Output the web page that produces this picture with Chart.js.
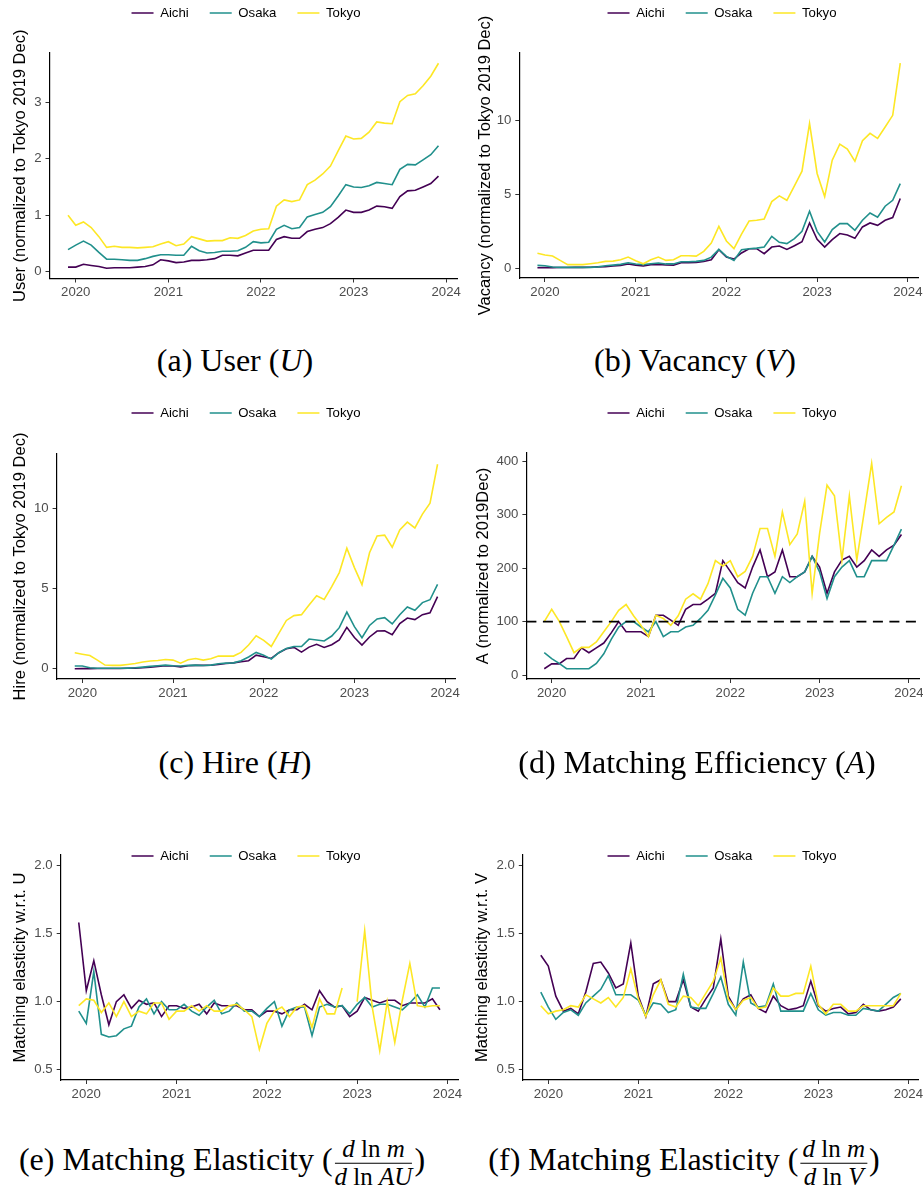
<!DOCTYPE html>
<html>
<head>
<meta charset="utf-8">
<title>Matching function panels</title>
<script src="https://cdn.jsdelivr.net/npm/chart.js@4.4.1/dist/chart.umd.min.js"></script>
<style>
  html, body { margin: 0; padding: 0; background: #fff; }
  #page { position: relative; width: 923px; height: 1185px; overflow: hidden; }
  #page canvas { position: absolute; }
  .cap { position: absolute; transform: translate(-50%, -50%); white-space: nowrap;
         font-family: "Liberation Serif", "DejaVu Serif", serif; font-size: 32px; color: #000; }
  .frac { display: inline-block; vertical-align: middle; text-align: center; font-size: 25px; line-height: 1.05; margin: 0 2px; }
  .frac span { display: block; }
  .frac .num { border-bottom: 1px solid #000; padding: 0 2px 1px; }
</style>
</head>
<body>
<div id="page">
  <canvas id="chartUser"></canvas>
  <canvas id="chartVacancy"></canvas>
  <canvas id="chartHire"></canvas>
  <canvas id="chartEff"></canvas>
  <canvas id="chartElasU"></canvas>
  <canvas id="chartElasV"></canvas>

  <div class="cap" style="left:235px;top:360px">(a) User (<i>U</i>)</div>
  <div class="cap" style="left:695px;top:360px">(b) Vacancy (<i>V</i>)</div>
  <div class="cap" style="left:235px;top:762px">(c) Hire (<i>H</i>)</div>
  <div class="cap" style="left:697px;top:762px">(d) Matching Efficiency (<i>A</i>)</div>
  <div class="cap" style="left:222px;top:1163px">(e) Matching Elasticity (<span class="frac"><span class="num"><i>d</i> ln <i>m</i></span><span><i>d</i> ln <i>AU</i></span></span>)</div>
  <div class="cap" style="left:684px;top:1163px">(f) Matching Elasticity (<span class="frac"><span class="num"><i>d</i> ln <i>m</i></span><span><i>d</i> ln <i>V</i></span></span>)</div>
</div>

<script>
// monthly observations, 2019 Dec .. 2023 Dec
const months = [];
for (let k = 0; k < 49; k++) {
  const t = 2019 * 12 + 11 + k;
  months.push(Math.floor(t / 12) + '-' + String(t % 12 + 1).padStart(2, '0'));
}
const yearTicks = [2020, 2021, 2022, 2023, 2024];
const prefectures = ['Aichi', 'Osaka', 'Tokyo'];

// (a) users, normalized to Tokyo 2019 Dec
const userAichi = [0.08,0.08,0.13,0.11,0.09,0.06,0.07,0.07,0.07,0.08,0.09,0.12,0.21,0.19,0.16,0.17,0.20,0.20,0.21,0.23,0.29,0.29,0.28,0.33,
  0.38,0.38,0.38,0.57,0.62,0.59,0.59,0.71,0.75,0.78,0.85,0.96,1.09,1.05,1.05,1.09,1.16,1.15,1.12,1.33,1.43,1.44,1.50,1.56,1.69];
const userOsaka = [0.39,0.47,0.54,0.47,0.34,0.22,0.22,0.21,0.20,0.20,0.23,0.27,0.30,0.30,0.29,0.29,0.45,0.37,0.33,0.34,0.36,0.36,0.37,0.43,
  0.53,0.51,0.52,0.75,0.82,0.76,0.78,0.97,1.01,1.05,1.15,1.34,1.54,1.50,1.49,1.52,1.58,1.56,1.54,1.81,1.90,1.89,1.98,2.07,2.23];
const userTokyo = [1.00,0.82,0.88,0.78,0.62,0.43,0.45,0.43,0.43,0.42,0.43,0.44,0.49,0.53,0.46,0.49,0.62,0.58,0.54,0.55,0.55,0.60,0.59,0.64,
  0.72,0.75,0.76,1.16,1.27,1.24,1.27,1.54,1.62,1.73,1.87,2.14,2.40,2.35,2.36,2.47,2.65,2.63,2.62,3.01,3.12,3.15,3.29,3.46,3.69];
const userTicks = [0, 1, 2, 3];

// (b) vacancies
const vacAichi = [0.02,0.03,0.03,0.04,0.04,0.05,0.05,0.06,0.08,0.10,0.15,0.18,0.27,0.20,0.14,0.23,0.25,0.21,0.20,0.36,0.37,
  0.38,0.45,0.56,1.24,0.74,0.61,1.02,1.31,1.31,0.97,1.42,1.49,1.26,1.51,1.78,3.05,1.94,1.42,1.92,2.33,2.23,2.01,2.78,3.05,2.89,3.23,3.41,4.70];
const vacOsaka = [0.18,0.16,0.07,0.05,0.05,0.05,0.05,0.05,0.08,0.16,0.20,0.25,0.36,0.27,0.23,0.29,0.34,0.28,0.28,0.43,0.43,
  0.45,0.52,0.74,1.26,0.79,0.52,1.24,1.31,1.35,1.42,2.14,1.74,1.65,1.99,2.48,3.84,2.48,1.76,2.60,3.00,3.00,2.55,3.23,3.72,3.43,4.18,4.58,5.71];
const vacTokyo = [1.00,0.88,0.81,0.52,0.23,0.23,0.23,0.29,0.36,0.45,0.47,0.56,0.74,0.50,0.29,0.56,0.74,0.52,0.56,0.83,0.83,
  0.81,1.13,1.69,2.82,1.83,1.31,2.30,3.18,3.23,3.32,4.49,4.88,4.58,5.55,6.55,9.77,6.39,4.83,7.29,8.37,8.04,7.22,8.60,9.10,8.76,9.53,10.32,13.84];
const vacTicks = [0, 5, 10];

// (c) hires
const hireAichi = [0.00,0.01,0.01,0.02,0.02,0.02,0.02,0.03,0.04,0.06,0.10,0.15,0.19,0.17,0.12,0.19,0.21,0.21,0.22,0.27,0.33,0.37,0.44,
  0.50,0.85,0.75,0.64,1.00,1.25,1.33,1.04,1.35,1.52,1.33,1.50,1.79,2.58,1.95,1.48,1.98,2.35,2.37,2.12,2.81,3.16,3.06,3.37,3.49,4.49];
const hireOsaka = [0.17,0.17,0.06,0.03,0.03,0.03,0.03,0.04,0.06,0.10,0.15,0.19,0.23,0.19,0.17,0.21,0.23,0.20,0.23,0.31,0.35,0.37,0.50,
  0.73,1.02,0.85,0.60,1.00,1.27,1.39,1.39,1.85,1.79,1.73,2.04,2.56,3.53,2.62,1.93,2.70,3.10,3.18,2.79,3.37,3.85,3.64,4.12,4.30,5.26];
const hireTokyo = [1.00,0.91,0.83,0.54,0.23,0.21,0.21,0.27,0.33,0.42,0.48,0.52,0.58,0.54,0.35,0.56,0.64,0.54,0.62,0.79,0.79,0.79,1.02,
  1.48,2.06,1.77,1.39,2.20,3.01,3.31,3.37,3.97,4.55,4.32,5.11,5.99,7.51,6.30,5.24,7.23,8.27,8.32,7.57,8.65,9.13,8.77,9.63,10.31,12.74];
const hireTicks = [0, 5, 10];

// (d) matching efficiency, normalized to 2019 Dec = 100
const effAichi = [12,21,21,31,31,51,42,51,60,79,100,81,81,81,72,112,112,103,93,123,132,
  132,142,153,214,194,173,163,202,234,184,193,234,184,184,193,222,202,153,193,215,222,202,214,234,222,234,243,263];
const effOsaka = [42,31,22,12,12,12,12,22,40,67,90,100,100,90,81,100,72,81,81,90,93,
  106,121,150,181,163,123,112,153,184,184,153,184,173,184,193,222,193,143,184,202,214,184,184,214,214,214,243,273];
const effTokyo = [100,123,101,72,42,52,52,62,81,100,121,132,111,93,72,112,106,93,111,142,152,
  142,171,214,204,214,184,194,222,274,274,222,305,244,264,325,153,265,355,335,215,335,215,305,396,283,295,305,354];
const effTicks = [0, 100, 200, 300, 400];
const effBaseline = 100;

// (e) matching elasticity w.r.t. U
const elasUAichi = [1.58,1.08,1.30,1.05,0.83,1.00,1.05,0.95,1.01,0.98,0.99,0.89,0.97,0.97,0.95,0.96,0.98,0.91,0.99,0.97,
  0.97,0.97,0.94,0.94,0.89,0.93,0.93,0.91,0.94,0.94,0.98,0.94,1.08,1.00,0.96,0.97,0.89,0.93,1.03,1.01,
  0.99,1.01,1.01,0.97,0.99,0.99,0.99,1.02,0.94];
const elasUOsaka = [0.93,0.84,1.22,0.76,0.74,0.75,0.80,0.82,0.96,1.02,0.91,1.00,0.94,0.94,0.98,0.93,0.90,0.96,1.01,0.91,
  0.93,0.99,0.93,0.93,0.89,0.95,1.00,0.82,0.94,0.96,0.96,0.75,0.96,0.98,0.96,0.97,0.91,0.98,1.03,0.96,
  0.98,0.98,0.96,0.94,0.99,1.05,0.96,1.10,1.10];
const elasUTokyo = [0.97,1.02,1.01,0.92,0.99,0.89,1.00,0.89,0.93,0.91,0.99,0.99,0.87,0.93,0.93,0.97,0.93,0.97,0.93,0.93,
  0.97,0.98,0.94,0.89,0.65,0.84,0.93,0.96,0.89,0.96,0.97,0.81,1.02,0.91,0.91,1.10,null,1.00,1.52,0.96,
  0.64,1.00,0.70,1.01,1.28,0.97,0.96,0.97,0.97];

// (f) matching elasticity w.r.t. V
const elasVAichi = [1.34,1.26,1.04,0.93,0.95,0.91,1.07,1.28,1.29,1.21,1.10,1.13,1.43,1.04,0.89,1.13,1.16,1.00,1.00,1.16,
  0.96,0.93,1.02,1.10,1.46,1.04,0.94,1.02,1.05,0.95,0.92,1.04,0.97,0.94,0.95,0.97,1.15,0.97,0.93,0.95,
  0.96,0.91,0.92,0.98,0.94,0.93,0.94,0.96,1.02];
const elasVOsaka = [1.07,0.96,0.87,0.92,0.94,0.90,0.99,1.04,1.09,1.19,1.05,1.05,1.05,1.01,0.90,0.99,0.98,0.92,0.94,1.20,
  0.96,0.95,0.95,1.06,1.18,0.98,0.90,1.29,0.99,0.96,0.97,1.13,0.93,0.93,0.93,0.93,1.06,0.94,0.90,0.92,
  0.92,0.90,0.90,0.95,0.94,0.93,0.98,1.03,1.06];
const elasVTokyo = [0.97,0.91,0.93,0.94,0.97,0.96,1.05,1.02,0.99,1.03,0.96,1.03,1.24,1.02,0.89,1.05,1.16,0.98,0.96,1.04,
  1.03,0.97,1.06,1.15,1.32,1.02,0.94,1.01,1.03,0.95,0.96,1.10,1.04,1.04,1.06,1.06,1.26,0.98,0.91,0.98,
  0.98,0.93,0.93,0.97,0.97,0.97,0.97,0.97,1.06];
const elasTicks = [0.5, 1.0, 1.5, 2.0];
const elasLimits = [0.5, 2.0];

// ---- styling ----
const colors = { Aichi: '#440154', Osaka: '#21908C', Tokyo: '#FDE725' };
const FONT = '"Liberation Sans", Arial, sans-serif';
const TICK_SIZE = 13.2;
const TITLE_SIZE = 16.5;

function toYear(s) {
  const [y, m] = s.split('-').map(Number);
  return y + (m - 1) / 12;
}

// ggplot style 5% expansion
function expand(lo, hi) {
  const d = (hi - lo) * 0.05;
  return [lo - d, hi + d];
}

function dataRange(sets) {
  const all = sets.flat().filter(v => v !== null);
  return expand(Math.min(...all), Math.max(...all));
}

const xRange = expand(toYear(months[0]), toYear(months[months.length - 1]));

function placeLegend(p) {
  return {
    id: 'placeLegend',
    beforeInit(chart) {
      const fit = chart.legend.fit;
      chart.legend.fit = function () {
        fit.call(this);
        this.height = p.area[2] - p.box[1];
      };
    },
    afterLayout(chart) {
      const lg = chart.legend;
      const pad = lg.options.labels.padding;
      const w = lg.right - lg.left;
      const cx = p.legend[0] - p.box[0];
      lg.left = cx - w / 2;
      lg.right = cx + w / 2;
      lg.top = p.legend[1] - p.box[1] - pad - TICK_SIZE / 2;
      lg.bottom = lg.top + 2 * pad + TICK_SIZE + 4;
      lg.height = lg.bottom - lg.top;
    }
  };
}

function dashedBaseline(value) {
  return {
    id: 'dashedBaseline',
    afterDatasetsDraw(chart) {
      const ctx = chart.ctx;
      const y = chart.scales.y.getPixelForValue(value);
      const { left, right } = chart.chartArea;
      ctx.save();
      ctx.strokeStyle = '#000';
      ctx.lineWidth = 1.6;
      ctx.setLineDash([10, 6.5]);
      ctx.beginPath();
      ctx.moveTo(left, y);
      ctx.lineTo(right, y);
      ctx.stroke();
      ctx.restore();
    }
  };
}

const panels = [
  { canvas: 'chartUser', box: [0, 0, 470, 330], area: [49.5, 457, 53, 278.5], legend: [246, 13], titleX: 20,
    title: 'User (normalized to Tokyo 2019 Dec)', sets: [userAichi, userOsaka, userTokyo], ticks: userTicks },
  { canvas: 'chartVacancy', box: [465, 0, 458, 330], area: [519.3, 918.4, 53, 278], legend: [722, 13], titleX: 485,
    title: 'Vacancy (normalized to Tokyo 2019 Dec)', sets: [vacAichi, vacOsaka, vacTokyo], ticks: vacTicks },
  { canvas: 'chartHire', box: [0, 400, 470, 330], area: [56.6, 455.7, 454, 679], legend: [246, 413], titleX: 20,
    title: 'Hire (normalized to Tokyo 2019 Dec)', sets: [hireAichi, hireOsaka, hireTokyo], ticks: hireTicks },
  { canvas: 'chartEff', box: [465, 400, 458, 330], area: [526.4, 919.3, 453, 679], legend: [722, 413], titleX: 483,
    title: 'A (normalized to 2019Dec)', sets: [effAichi, effOsaka, effTokyo], ticks: effTicks, baseline: effBaseline },
  { canvas: 'chartElasU', box: [0, 820, 470, 290], area: [60.7, 458, 855, 1080], legend: [246, 856], titleX: 20,
    title: 'Matching elasticity w.r.t. U', sets: [elasUAichi, elasUOsaka, elasUTokyo], ticks: elasTicks,
    limits: elasLimits, fmt: v => v.toFixed(1) },
  { canvas: 'chartElasV', box: [465, 820, 458, 290], area: [522.8, 918.8, 855, 1080], legend: [722, 856], titleX: 482,
    title: 'Matching elasticity w.r.t. V', sets: [elasVAichi, elasVOsaka, elasVTokyo], ticks: elasTicks,
    limits: elasLimits, fmt: v => v.toFixed(1) }
];

function buildPanel(p) {
  const [bx, by, bw, bh] = p.box;
  const [al, ar, at, ab] = p.area;
  const el = document.getElementById(p.canvas);
  el.width = bw; el.height = bh;
  el.style.left = bx + 'px'; el.style.top = by + 'px';
  el.style.width = bw + 'px'; el.style.height = bh + 'px';

  const yRange = p.limits ? expand(p.limits[0], p.limits[1]) : dataRange(p.sets);
  const fmt = p.fmt || (v => String(v));

  const datasets = prefectures.map((name, k) => ({
    label: name,
    data: months.map((m, i) => ({ x: toYear(m), y: p.sets[k][i] })),
    borderColor: colors[name],
    backgroundColor: colors[name],
    borderWidth: 1.6,
    pointRadius: 0,
    tension: 0,
    spanGaps: false,
    order: prefectures.length - 1 - k
  }));

  const axisCommon = {
    grid: { display: true, drawOnChartArea: false, drawTicks: true, tickLength: 4, color: '#333', lineWidth: 1 },
    border: { display: true, color: '#000', width: 1.2 }
  };

  const plugins = [placeLegend(p)];
  if (p.baseline !== undefined) plugins.push(dashedBaseline(p.baseline));

  new Chart(el, {
    type: 'line',
    data: { datasets },
    options: {
      responsive: false,
      animation: false,
      devicePixelRatio: 1,
      layout: { padding: { left: 0, right: bx + bw - ar, top: 0, bottom: 0 } },
      plugins: {
        legend: {
          display: true,
          position: 'top',
          labels: {
            usePointStyle: true,
            pointStyle: 'line',
            pointStyleWidth: 22,
            padding: 21,
            color: '#000',
            font: { family: FONT, size: TICK_SIZE },
            sort: (a, b) => a.datasetIndex - b.datasetIndex
          }
        },
        tooltip: { enabled: false }
      },
      scales: {
        x: {
          type: 'linear',
          min: xRange[0],
          max: xRange[1],
          afterBuildTicks: ax => { ax.ticks = yearTicks.map(v => ({ value: v })); },
          afterFit: ax => { ax.height = by + bh - ab; ax.paddingLeft = 0; ax.paddingRight = 0; },
          ticks: { callback: v => String(v), color: '#4D4D4D', font: { family: FONT, size: TICK_SIZE },
                   padding: 2, maxRotation: 0, autoSkip: false },
          ...axisCommon
        },
        y: {
          type: 'linear',
          min: yRange[0],
          max: yRange[1],
          afterBuildTicks: ax => { ax.ticks = p.ticks.map(v => ({ value: v })); },
          afterFit: ax => { ax.width = al - bx; ax.paddingTop = 0; ax.paddingBottom = 0; },
          title: { display: true, text: p.title, color: '#000', font: { family: FONT, size: TITLE_SIZE },
                   padding: { top: p.titleX - bx - TITLE_SIZE * 0.6, bottom: 0 } },
          ticks: { callback: v => fmt(v), color: '#4D4D4D', font: { family: FONT, size: TICK_SIZE }, padding: 4 },
          ...axisCommon
        }
      }
    },
    plugins
  });
}

panels.forEach(buildPanel);
</script>
</body>
</html>
